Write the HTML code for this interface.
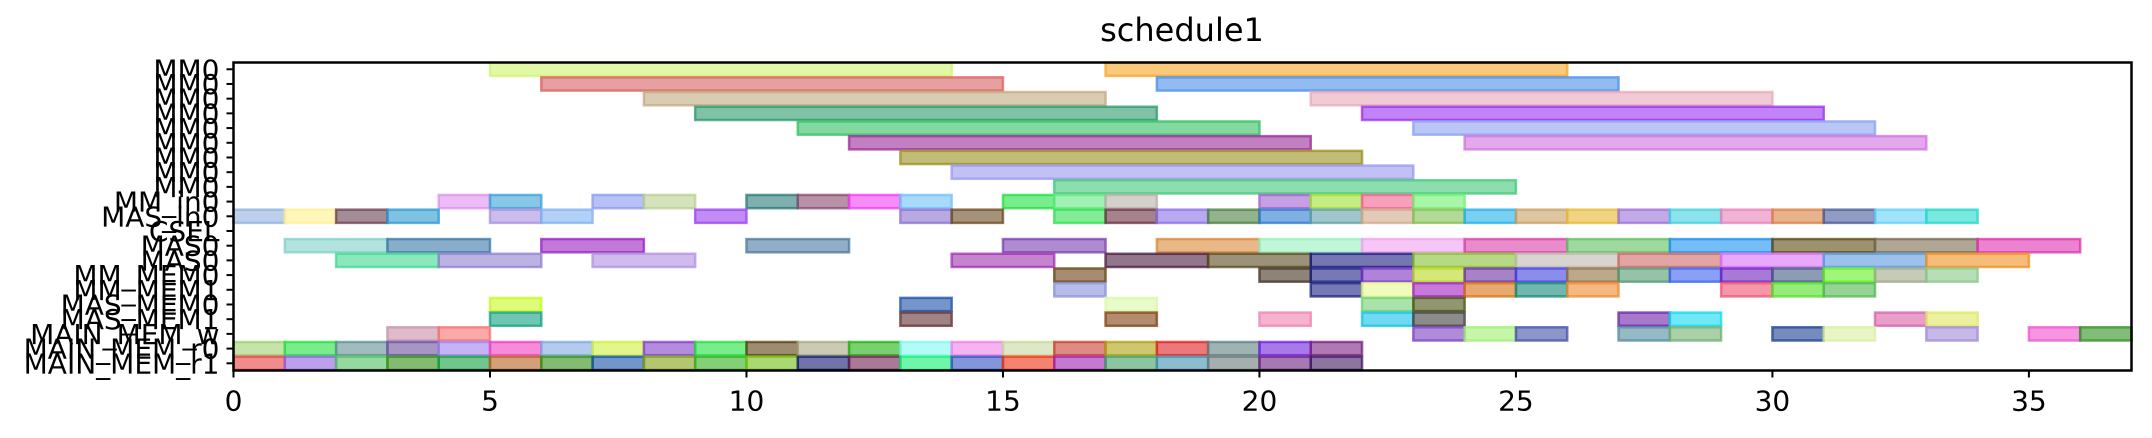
<!DOCTYPE html>
<html><head><meta charset="utf-8"><style>
body{margin:0;background:#fff;}
svg{display:block;font-family:"DejaVu Sans","Liberation Sans",sans-serif;}
</style></head><body>
<svg id="chart" width="2152" height="438" xmlns="http://www.w3.org/2000/svg">
<rect width="2152" height="438" fill="#fff"/>
<text x="1182" y="41" font-size="32" text-anchor="middle">schedule1</text>
<g id="bars"></g>
<rect x="233.5" y="62.5" width="1898" height="308" fill="none" stroke="#000" stroke-width="2.5"/>
<g id="axes"></g>
</svg>
<script>
const rowLabels = ["MAIN_MEM_r1","MAIN_MEM_r0","MAIN_MEM_w","MAS_MEM1","MAS_MEM0","MM_MEM1","MM_MEM0","MAS0","MAS0","CSEL","MAS_in0","MM_in0","MM0","MM0","MM0","MM0","MM0","MM0","MM0","MM0","MM0"];
const xTicks = [0,5,10,15,20,25,30,35];
const xMax = 37;
// tasks: [row, start, end]
const tasks = [
[20,5,14],[20,17,26],
[19,6,15],[19,18,27],
[18,8,17],[18,21,30],
[17,9,18],[17,22,31],
[16,11,20],[16,23,32],
[15,12,21],[15,24,33],
[14,13,22],[13,14,23],[12,16,25],
[11,4,5],[11,5,6],[11,7,8],[11,8,9],[11,10,11],[11,11,12],[11,12,13],[11,13,14],[11,15,16],[11,16,17],[11,17,18],[11,20,21],[11,21,22],[11,22,23],[11,23,24],
[10,0,1],[10,1,2],[10,2,3],[10,3,4],[10,5,6],[10,6,7],[10,9,10],[10,13,14],[10,14,15],[10,16,17],[10,17,18],[10,18,19],[10,19,20],[10,20,21],[10,21,22],[10,22,23],[10,23,24],[10,24,25],[10,25,26],[10,26,27],[10,27,28],[10,28,29],[10,29,30],[10,30,31],[10,31,32],[10,32,33],[10,33,34],
[8,1,3],[8,3,5],[8,6,8],[8,10,12],[8,15,17],[8,18,20],[8,20,22],[8,22,24],[8,24,26],[8,26,28],[8,28,30],[8,30,32],[8,32,34],[8,34,36],
[7,2,4],[7,4,6],[7,7,9],[7,14,16],[7,17,19],[7,19,21],[7,21,23],[7,23,25],[7,25,27],[7,27,29],[7,29,31],[7,31,33],[7,33,35],
[6,16,17],[6,20,21],[6,21,22],[6,22,23],[6,23,24],[6,24,25],[6,25,26],[6,26,27],[6,27,28],[6,28,29],[6,29,30],[6,30,31],[6,31,32],[6,32,33],[6,33,34],
[5,16,17],[5,21,22],[5,22,23],[5,23,24],[5,24,25],[5,25,26],[5,26,27],[5,29,30],[5,30,31],[5,31,32],
[4,5,6],[4,13,14],[4,17,18],[4,22,23],[4,23,24],
[3,5,6],[3,13,14],[3,17,18],[3,20,21],[3,22,23],[3,23,24],[3,27,28],[3,28,29],[3,32,33],[3,33,34],
[2,3,4],[2,4,5],[2,23,24],[2,24,25],[2,25,26],[2,27,28],[2,28,29],[2,30,31],[2,31,32],[2,33,34],[2,35,36],[2,36,37],
[1,0,1],[1,1,2],[1,2,3],[1,3,4],[1,4,5],[1,5,6],[1,6,7],[1,7,8],[1,8,9],[1,9,10],[1,10,11],[1,11,12],[1,12,13],[1,13,14],[1,14,15],[1,15,16],[1,16,17],[1,17,18],[1,18,19],[1,19,20],[1,20,21],[1,21,22],
[0,0,1],[0,1,2],[0,2,3],[0,3,4],[0,4,5],[0,5,6],[0,6,7],[0,7,8],[0,8,9],[0,9,10],[0,10,11],[0,11,12],[0,12,13],[0,13,14],[0,14,15],[0,15,16],[0,16,17],[0,17,18],[0,18,19],[0,19,20],[0,20,21],[0,21,22]
];
const taskColors = [
'#cdf56a','#f5a623',
'#d95f5f','#4a8fe8',
'#c2aa80','#e8a8b8',
'#2a9a6a','#9a30f0',
'#30c060','#8aa0f0',
'#9a2a9a','#d070e0',
'#9a9020','#9898f0','#40c878',
'#e090f0','#3aa0d8','#8898f0','#b8d090','#2a7a7a','#8a4a70','#f040f0','#70c0f8','#20e040','#60e880','#b8b0a8','#a060d0','#a0e030','#f06090','#70f070',
'#90b0e0','#fff090','#6a4050','#2a9ad0','#a890e0','#80b0f0','#9a40f0','#8a70d0','#6a4a20','#30e050','#6a3040','#8a70e8','#4a8040','#2a7ad0','#60a0a8','#d0a888','#80c050','#20b0e8','#c8a060','#e8b830','#9a70d8','#40d0e0','#e880b8','#d88040','#4a5a9a','#60d0f8','#20d8c8',
'#80d0c8','#3a78a8','#9a20c0','#4a78a0','#7a40b0','#d88838','#98f0c0','#f0a0f0','#d840a8','#60c060','#1a90f0','#5a4a10','#7a6a50','#e030b0',
'#40d890','#9080d0','#b090e0','#a030b0','#4a1a40','#5a4a20','#1a1a80','#88c030','#c0b8b0','#d06868','#d870f8','#5898e0','#f09020',
'#6a4010','#403020','#1a2080','#7a30c0','#b8d820','#6a30a0','#4040e0','#907040','#509a70','#3a60f0','#7020c0','#405a80','#60f020','#a0a888','#88c888',
'#8890d8','#1a2080','#e8f890','#a020c0','#d87010','#108878','#f08830','#f05070','#50e020','#50b850',
'#c8f820','#1a50a8','#d8f8a8','#70d070','#4a5010',
'#10a080','#603030','#804010','#f080b0','#10c0e8','#404040','#6a20a8','#10d8f0','#d860a8','#e0e860',
'#c890a8','#f87070','#7a40c0','#a0f070','#4050a8','#508aa0','#70b070','#1a4090','#d8f0a0','#a088d8','#f050d0','#309020',
'#a0d070','#20e040','#609090','#6a50a0','#a080f0','#f040c0','#80a8e0','#d0f040','#8040c8','#20e040','#5a4010','#a8a880','#20b010','#80f8f0','#f080e8','#c8d8a0','#c84030','#b0a010','#e02020','#608080','#7020e0','#7a2080',
'#e84040','#9060e0','#50c060','#309010','#10a040','#b86020','#309010','#1050a8','#80a010','#30b020','#70c010','#101870','#702050','#10f070','#3050c0','#f03010','#a020b0','#40a060','#4090b0','#6a7a7a','#6a2080','#401a60'
];

const NS = 'http://www.w3.org/2000/svg';
const X0 = 233.5, X1 = 2131.5, Y0 = 62.5, Y1 = 370.5;
function xs(v){ return X0 + v * (X1 - X0) / xMax; }
function ys(r){ return Y1 - (r + 0.49) * (Y1 - Y0) / 20.95; }
const rowH = (Y1 - Y0) / 20.95;
const gb = document.getElementById('bars');
tasks.forEach((t, i) => {
  const r = document.createElementNS(NS, 'rect');
  const h = rowH * 0.9;
  r.setAttribute('x', xs(t[1]));
  r.setAttribute('y', ys(t[0]) - h / 2);
  r.setAttribute('width', xs(t[2]) - xs(t[1]));
  r.setAttribute('height', h);
  r.setAttribute('fill', taskColors[i]);
  r.setAttribute('fill-opacity', '0.6');
  r.setAttribute('stroke', taskColors[i]);
  r.setAttribute('stroke-opacity', '0.75');
  r.setAttribute('stroke-width', '2.5');
  
  
  gb.appendChild(r);
});
const ga = document.getElementById('axes');
rowLabels.forEach((lab, i) => {
  const y = ys(i);
  const tk = document.createElementNS(NS, 'line');
  tk.setAttribute('x1', X0 - 7); tk.setAttribute('x2', X0);
  tk.setAttribute('y1', y); tk.setAttribute('y2', y);
  tk.setAttribute('stroke', '#000'); tk.setAttribute('stroke-width', '2');
  
  
  ga.appendChild(tk);
  const tx = document.createElementNS(NS, 'text');
  tx.setAttribute('x', X0 - 14); tx.setAttribute('y', y + 10);
  tx.setAttribute('font-size', '28'); tx.setAttribute('text-anchor', 'end');
  tx.textContent = lab;
  
  
  ga.appendChild(tx);
});
xTicks.forEach(v => {
  const x = xs(v);
  const tk = document.createElementNS(NS, 'line');
  tk.setAttribute('x1', x); tk.setAttribute('x2', x);
  tk.setAttribute('y1', Y1); tk.setAttribute('y2', Y1 + 7);
  tk.setAttribute('stroke', '#000'); tk.setAttribute('stroke-width', '2');
  
  
  ga.appendChild(tk);
  const tx = document.createElementNS(NS, 'text');
  tx.setAttribute('x', x); tx.setAttribute('y', Y1 + 40);
  tx.setAttribute('font-size', '28'); tx.setAttribute('text-anchor', 'middle');
  tx.textContent = v;
  
  
  ga.appendChild(tx);
});
</script>
</body></html>
